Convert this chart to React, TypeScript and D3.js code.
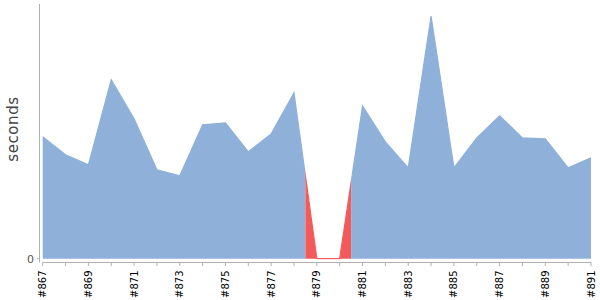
import React from "react";
import * as d3 from "d3";

const builds = ["#867","#868","#869","#870","#871","#872","#873","#874","#875","#876","#877","#878","#879","#880","#881","#882","#883","#884","#885","#886","#887","#888","#889","#890","#891"];
const durations = [122,104,94,179,140,89,83,134,136,107,125,166,0,0,153,117,91,243,91,121,143,121,120,91,101];
const statuses = ["ok","ok","ok","ok","ok","ok","ok","ok","ok","ok","ok","ok","failed","failed","ok","ok","ok","ok","ok","ok","ok","ok","ok","ok","ok"];
const yTicks = [0];
const yLabel = "seconds";

const W = 600, H = 300;
const plotLeft = 42.7, plotRight = 591, plotTop = 4, baseY = 258.7;
const colors: Record<string, string> = { ok: "#8fb1d9", failed: "#f45a5a" };

export default function App() {
  const x = d3.scalePoint<string>().domain(builds).range([plotLeft, plotRight]);
  const y = d3.scaleLinear().domain([0, 255]).range([baseY, plotTop]);
  const data = builds.map((b, i) => ({ b, v: durations[i], s: statuses[i] }));
  const area = d3.area<typeof data[0]>().x(d => x(d.b)!).y0(baseY).y1(d => y(d.v));
  const line = d3.line<typeof data[0]>().x(d => x(d.b)!).y(d => y(d.v));
  const path = area(data)!;
  const linePath = line(data)!;
  const step = x.step();
  const segs: { s: string; x0: number; x1: number }[] = [];
  data.forEach((d, i) => {
    const cx = x(d.b)!;
    const x0 = i === 0 ? cx - 1 : cx - step / 2;
    const x1 = i === data.length - 1 ? cx + 1 : cx + step / 2;
    const last = segs[segs.length - 1];
    if (last && last.s === d.s) last.x1 = x1;
    else segs.push({ s: d.s, x0, x1 });
  });
  return (
    <svg width={W} height={H} style={{ position: "absolute", left: 0, top: 0 }} fontFamily="DejaVu Sans">
      <defs>
        {segs.map((sg, i) => (
          <clipPath id={`seg${i}`} key={i}>
            <rect x={sg.x0} y={0} width={sg.x1 - sg.x0} height={baseY + 1} />
          </clipPath>
        ))}
      </defs>
      {segs.map((sg, i) => (
        <g key={i} clipPath={`url(#seg${i})`}>
          <path d={path} fill={colors[sg.s]} />
          <path d={linePath} fill="none" stroke={colors[sg.s]} strokeWidth={1.2} />
        </g>
      ))}
      <line x1={39.5} x2={39.5} y1={plotTop} y2={262.5} stroke="#b0b0b0" />
      {yTicks.map(t => (
        <g key={t}>
          <line x1={37} x2={39.5} y1={y(t)} y2={y(t)} stroke="#b0b0b0" />
          <text x={34} y={y(t)} dy="0.35em" textAnchor="end" fontSize={11} fill="#555">{t}</text>
        </g>
      ))}
      <text transform={`translate(18,129) rotate(-90)`} textAnchor="middle" fontSize={15} letterSpacing={0.6} fill="#444">{yLabel}</text>
      <line x1={plotLeft} x2={plotRight} y1={262.5} y2={262.5} stroke="#b0b0b0" />
      {builds.map((b, i) => (
        <g key={b} transform={`translate(${x(b)},0)`}>
          <line y1={262.5} y2={266} stroke="#b0b0b0" />
          {i % 2 === 0 && (
            <text transform={`translate(0,270.5) rotate(-90)`} dy="0.35em" textAnchor="end" fontSize={10} fill="#000">{b}</text>
          )}
        </g>
      ))}
    </svg>
  );
}
